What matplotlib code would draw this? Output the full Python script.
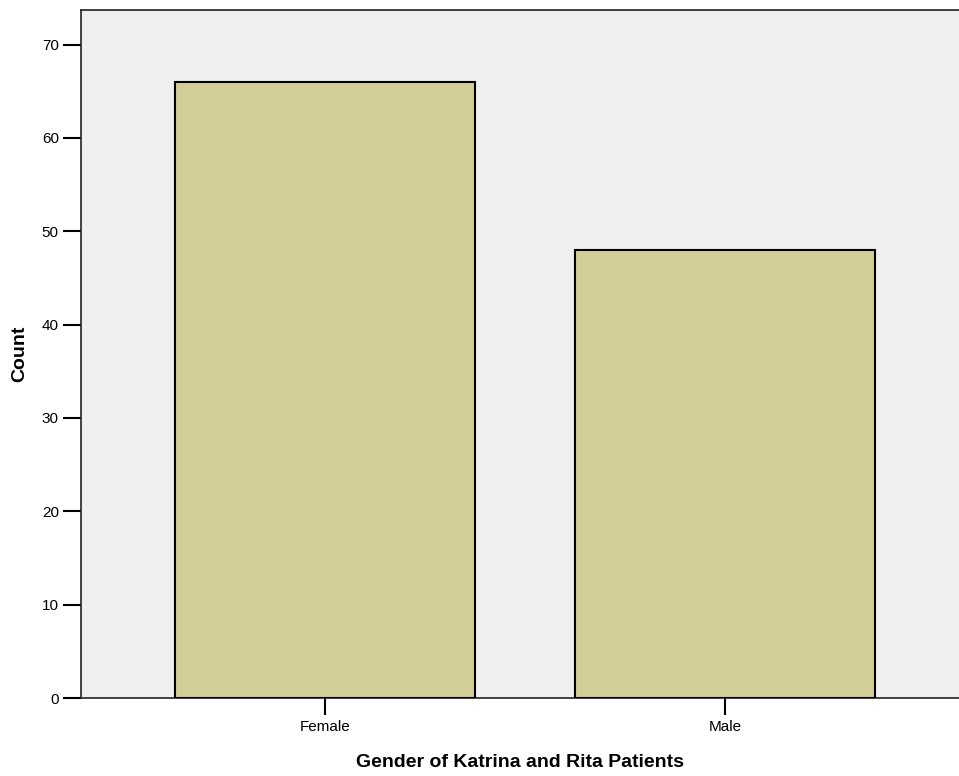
import matplotlib
matplotlib.use("Agg")
import matplotlib.pyplot as plt

categories = ["Female", "Male"]
counts = [66, 48]
yticks = [0, 10, 20, 30, 40, 50, 60, 70]

plt.rcParams['font.family'] = ['Liberation Sans', 'DejaVu Sans']

W, H = 959, 776
fig = plt.figure(figsize=(W/100, H/100), dpi=100)
ax = fig.add_axes([81/W, 1-698/H, (960-81)/W, (698-10)/H])
ax.set_facecolor('#EFEFEF')
x = list(range(len(categories)))
ax.bar(x, counts, width=0.75, color='#D3CE97', edgecolor='black', linewidth=1.5, zorder=3)
ax.set_xlim(-0.61, 1.587)
ax.set_ylim(0, 73.7)
ax.set_yticks(yticks)
ax.set_xticks(x)
ax.set_xticklabels(categories)
ax.spines['right'].set_visible(False)
for s in ['left', 'bottom', 'top']:
    ax.spines[s].set_linewidth(1.2)
    ax.spines[s].set_color('#222222')
ax.tick_params(axis='y', length=13, width=1.5, labelsize=11, pad=3)
ax.tick_params(axis='x', length=12, width=1.5, labelsize=11, pad=4)
ax.set_ylabel('Count', fontsize=14, fontweight='bold', labelpad=10)
ax.set_xlabel('Gender of Katrina and Rita Patients', fontsize=14, fontweight='bold', labelpad=14)
fig.savefig('out.png', dpi=100)
